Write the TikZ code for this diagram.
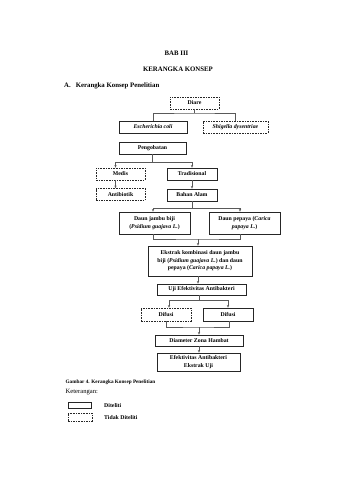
\documentclass[tikz,border=0pt]{standalone}
\usepackage{fontspec}
\setmainfont{Liberation Serif}
\usetikzlibrary{arrows.meta}
\tikzset{
  basebox/.style={align=center, inner sep=0pt, font=\fontsize{5.8}{7.6}\selectfont\bfseries, text=black},
  sbox/.style={basebox, draw=black!85, line width=0.8pt},
  dbox/.style={basebox, draw=black!85, line width=0.7pt, dash pattern=on 1.6pt off 1pt},
  conn/.style={draw=black!65, line width=0.5pt},
  arr/.style={conn, -{Stealth[length=2.6pt,width=2.3pt]}},
  head/.style={font=\fontsize{6.8}{8}\selectfont\bfseries, inner sep=0pt},
  plain/.style={font=\fontsize{6.6}{8}\selectfont, inner sep=0pt},
}
\begin{document}
\begin{tikzpicture}[x=1pt,y=-1pt]
\useasboundingbox[fill=white] (0,0) rectangle (339,480);

% headings
\node[head, anchor=base] (bab) at (176.5,55.5) {BAB III};
\node[head, anchor=base] (kk) at (178,71.5) {KERANGKA KONSEP};
\node[head, anchor=base west] (sec) at (64,87.5) {A.\hspace{5pt}Kerangka Konsep Penelitian};

% boxes
\node[dbox, minimum width=49, minimum height=12] (diare) at (194.5,103) {Diare};
\node[sbox, minimum width=68, minimum height=12] (ecoli) at (153,127) {\itshape Escherichia coli};
\node[dbox, minimum width=65, minimum height=12] (shig) at (235.5,127) {\itshape Shigella dysentriae};
\node[sbox, minimum width=67, minimum height=12] (pengob) at (152.5,148) {Pengobatan};
\node[dbox, minimum width=49, minimum height=12] (medis) at (120.5,174) {Medis};
\node[sbox, minimum width=50, minimum height=12] (trad) at (192,174) {Tradisional};
\node[dbox, minimum width=49, minimum height=12] (anti) at (120.5,194.5) {Antibiotik};
\node[sbox, minimum width=50, minimum height=12] (bahan) at (192,195) {Bahan Alam};
\node[sbox, minimum width=71, minimum height=22] (jambu) at (154.5,223) {Daun jambu biji\\(\textit{Psidium guajava L.})};
\node[sbox, minimum width=71, minimum height=22] (pepaya) at (244.5,223) {Daun pepaya (\textit{Carica}\\\textit{papaya L.})};
\node[sbox, minimum width=104, minimum height=30] (ekstrak) at (200,261) {Ekstrak kombinasi daun jambu\\biji (\textit{Psidium guajava L.}) dan daun\\pepaya (\textit{Carica papaya L.})};
\node[sbox, minimum width=89, minimum height=11] (uji) at (201.5,289.5) {Uji Efektivitas Antibakteri};
\node[dbox, minimum width=50, minimum height=13] (dif1) at (166,314.5) {Difusi};
\node[sbox, minimum width=50, minimum height=13] (dif2) at (228,314.5) {Difusi};
\node[sbox, minimum width=88, minimum height=11] (diam) at (199,340.5) {Diameter Zona Hambat};
\node[sbox, minimum width=83, minimum height=18] (efek) at (198.5,362) {Efektivitas Antibakteri\\Ekstrak Uji};

% connectors
\coordinate (j1) at (194.5,113);
\draw[conn] (diare.south) -- (j1);
\draw[conn] (ecoli.north) |- (j1) -| (shig.north);

\coordinate (j2) at (152.5,162);
\draw[conn] (pengob.south) -- (j2);
\draw[arr] (j2) -| ([xshift=-5pt]medis.north);
\draw[arr] (j2) -| (trad.north);
\draw[arr] ([xshift=-5pt]medis.south) -- ([xshift=-5pt]anti.north);
\draw[arr] (trad.south) -- (bahan.north);

\coordinate (j3) at (192,208);
\draw[conn] (bahan.south) -- (j3);
\draw[arr] (j3) -| ([xshift=-1.5pt]jambu.north);
\draw[arr] (j3) -| ([xshift=-4.5pt]pepaya.north);

\coordinate (m1) at (198,239);
\draw[conn] ([xshift=-1.5pt]jambu.south) |- (m1) -| ([xshift=-4.5pt]pepaya.south);
\draw[arr] (m1) -- (m1 |- ekstrak.north);
\draw[arr] ([xshift=-2pt]ekstrak.south) -- ([xshift=-2pt]ekstrak.south |- uji.north);

\coordinate (j4) at (199,300);
\draw[conn] (j4 |- uji.south) -- (j4);
\draw[arr] (j4) -| ([xshift=3pt]dif1.north);
\draw[arr] (j4) -| (dif2.north);

\coordinate (m2) at (199,327);
\draw[conn] (dif1.south) |- (m2) -| ([xshift=1pt]dif2.south);
\draw[arr] (m2) -- (m2 |- diam.north);
\draw[arr] (diam.south) -- (diam.south |- efek.north);

% caption and legend
\node[inner sep=0pt, font=\fontsize{5.2}{6}\selectfont\bfseries, anchor=base west] (cap) at (65.5,383) {Gambar 4. Kerangka Konsep Penelitian};
\node[plain, anchor=base west] (ket) at (65.5,393) {Keterangan:};
\node[sbox, minimum width=23, minimum height=6] (leg1) at (79.5,405) {};
\node[basebox, font=\fontsize{5.8}{7}\selectfont\bfseries, anchor=west] (legt1) at (104,405.5) {Diteliti};
\node[dbox, minimum width=24, minimum height=8] (leg2) at (80,417) {};
\node[basebox, font=\fontsize{5.8}{7}\selectfont\bfseries, anchor=west] (legt2) at (104,417.5) {Tidak Diteliti};
\end{tikzpicture}
\end{document}
